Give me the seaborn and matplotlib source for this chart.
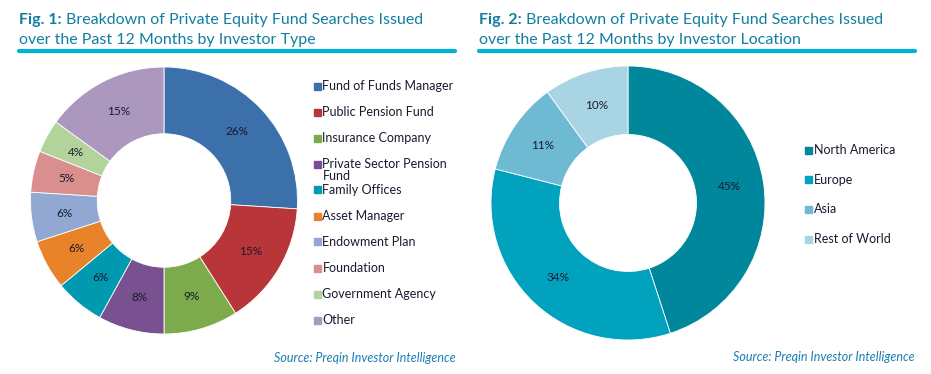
import matplotlib
matplotlib.use('Agg')
import matplotlib.pyplot as plt
from matplotlib.patches import Rectangle
import seaborn as sns

# 数据
type_labels = ['Fund of Funds Manager', 'Public Pension Fund', 'Insurance Company',
               'Private Sector Pension\nFund', 'Family Offices', 'Asset Manager',
               'Endowment Plan', 'Foundation', 'Government Agency', 'Other']
type_share = [26, 15, 9, 8, 6, 6, 6, 5, 4, 15]
type_colors = ['#3C70AA', '#B8363A', '#7DAA4A', '#7A5190', '#0099B0',
               '#E8832A', '#91A8D2', '#DB8E8E', '#B2D49A', '#AC97BF']

loc_labels = ['North America', 'Europe', 'Asia', 'Rest of World']
loc_share = [45, 34, 11, 10]
loc_colors = ['#00879B', '#00A2BD', '#6DBAD2', '#A9D4E3']

titles = ['Breakdown of Private Equity Fund Searches Issued\nover the Past 12 Months by Investor Type',
          'Breakdown of Private Equity Fund Searches Issued\nover the Past 12 Months by Investor Location']
source = 'Source: Preqin Investor Intelligence'

sns.set_theme(style='white')
plt.rcParams['font.family'] = ['Lato', 'DejaVu Sans']

W, H = 931, 374
fig = plt.figure(figsize=(W / 100, H / 100), dpi=100)
title_col = '#127FA0'
line_col = '#00B2D6'
text_col = '#1A1A2E'


def px(x, y):
    return x / W, 1 - y / H


def donut(cx, cy, r, vals, cols):
    ax = fig.add_axes([(cx - r) / W, 1 - (cy + r) / H, 2 * r / W, 2 * r / H])
    ax.pie(vals, colors=cols, startangle=90, counterclock=False,
           wedgeprops=dict(width=0.5, edgecolor='white', linewidth=0.6),
           autopct='%1.0f%%', pctdistance=0.75,
           textprops=dict(fontsize=8.5, color=text_col))
    ax.set_xlim(-1, 1)
    ax.set_ylim(-1, 1)
    ax.set_aspect('equal')
    return ax


def legend(x, y0, step, labels, cols):
    for i, (lab, c) in enumerate(zip(labels, cols)):
        y = y0 + i * step
        fig.patches.append(Rectangle(px(x, y + 3.5), 7 / W, 7 / H, color=c,
                                     transform=fig.transFigure, figure=fig))
        fig.text(*px(x + 8.5, y - 6), lab, fontsize=9, color=text_col,
                 va='top', ha='left', linespacing=0.95)


def header(x0, x1, num, txt):
    r = fig.canvas.get_renderer()
    t = fig.text(*px(x0, 24), f'Fig. {num}:', fontsize=11.5, fontweight='bold',
                 color=title_col, va='baseline')
    bb = t.get_window_extent(renderer=r)
    first, second = txt.split('\n')
    fig.text(bb.x1 / W + 4 / W, 1 - 24 / H, first, fontsize=11.5, color=title_col,
             va='baseline')
    fig.text(*px(x0, 44), second, fontsize=11.5, color=title_col, va='baseline')
    fig.add_artist(plt.Line2D([x0 / W, x1 / W], [1 - 50.5 / H] * 2, color=line_col,
                              linewidth=3, transform=fig.transFigure))


donut(164, 200.5, 133.5, type_share, type_colors)
donut(628, 203, 137, loc_share, loc_colors)

legend(314, 86, 26, type_labels, type_colors)
legend(805, 150, 29.7, loc_labels, loc_colors)

header(19, 455, 1, titles[0])
header(479, 915, 2, titles[1])

fig.text(*px(456, 358), source, fontsize=9, style='italic', color='#1A7DB0',
         ha='right', va='center')
fig.text(*px(915, 357), source, fontsize=9, style='italic', color='#1A7DB0',
         ha='right', va='center')

fig.savefig('out.png', dpi=100, facecolor='white')
